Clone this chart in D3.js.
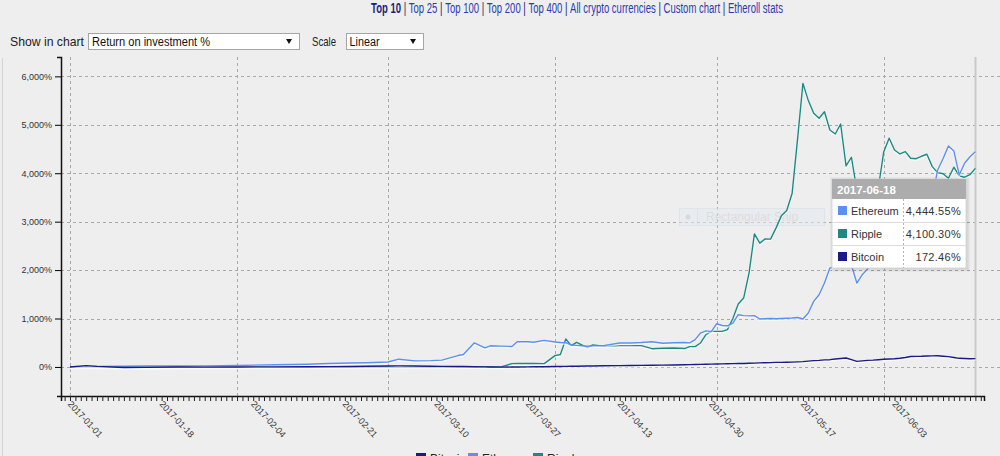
<!DOCTYPE html>
<html><head><meta charset="utf-8">
<script src="https://cdn.jsdelivr.net/npm/d3@7"></script>
<style>
body{margin:0;background:#eeeeee;font-family:Arial,"Liberation Sans",sans-serif;overflow:hidden}
svg{display:block}
</style></head><body><svg id="c" width="1000" height="456"></svg>
<script>
// ---------- data ----------
const dates = ["2017-01-01","2017-01-04","2017-01-06","2017-01-11","2017-01-15","2017-01-21","2017-01-26","2017-02-01","2017-02-08","2017-02-14","2017-02-18","2017-02-22","2017-02-25","2017-03-01","2017-03-03","2017-03-06","2017-03-09","2017-03-11","2017-03-14","2017-03-15","2017-03-17","2017-03-19","2017-03-20","2017-03-22","2017-03-24","2017-03-25","2017-03-27","2017-03-28","2017-03-30","2017-04-01","2017-04-02","2017-04-03","2017-04-04","2017-04-05","2017-04-07","2017-04-08","2017-04-10","2017-04-13","2017-04-15","2017-04-17","2017-04-19","2017-04-21","2017-04-23","2017-04-25","2017-04-26","2017-04-27","2017-04-28","2017-04-29","2017-04-30","2017-05-01","2017-05-02","2017-05-03","2017-05-04","2017-05-05","2017-05-06","2017-05-07","2017-05-08","2017-05-09","2017-05-10","2017-05-11","2017-05-12","2017-05-13","2017-05-14","2017-05-15","2017-05-16","2017-05-17","2017-05-18","2017-05-19","2017-05-20","2017-05-21","2017-05-22","2017-05-23","2017-05-24","2017-05-25","2017-05-26","2017-05-27","2017-05-28","2017-05-29","2017-05-30","2017-05-31","2017-06-01","2017-06-02","2017-06-03","2017-06-04","2017-06-05","2017-06-06","2017-06-07","2017-06-08","2017-06-09","2017-06-10","2017-06-11","2017-06-12","2017-06-13","2017-06-14","2017-06-15","2017-06-16","2017-06-17","2017-06-18"];
const bitcoin = [0,28,12,-12,-8,-2,-4,0,2,4,6,10,14,20,22,18,15,12,10,8,5,2,0,-4,-2,0,2,3,5,8,10,12,14,15,18,20,25,28,30,32,35,38,40,45,48,50,52,55,58,62,64,66,68,70,72,75,78,85,88,90,95,95,98,100,105,110,120,130,135,145,150,165,175,185,150,115,125,135,140,150,160,165,170,180,195,215,218,220,225,228,230,222,212,195,178,175,170,172.46];
const ethereum = [0,5,8,15,18,20,22,30,45,55,70,80,88,103,160,125,130,140,235,256,495,392,437,430,423,522,520,510,549,515,505,500,453,445,426,435,440,495,495,505,520,490,500,505,496,563,700,744,730,892,855,850,907,1078,1060,1055,1060,990,995,1000,995,1000,1005,1010,1020,990,1113,1353,1490,1732,2041,2075,2100,2130,2100,1732,1903,2020,2300,2490,2600,2625,2600,2570,2650,2770,2870,2975,3050,3500,4068,4300,4563,4460,3965,4206,4340,4444.55];
const ripple = [0,-3,-5,-8,-6,-8,-6,-5,-4,-3,-5,-4,-3,-2,-3,-4,-2,-2,0,0,2,0,-2,0,68,72,70,72,68,233,256,577,440,509,399,454,426,440,440,440,377,385,392,380,420,420,495,665,734,734,734,770,1000,1300,1422,1938,2748,2556,2645,2640,2866,3120,3229,3588,4700,5856,5500,5237,5134,5270,4893,4810,5016,4150,4330,3650,3150,3000,3250,3700,4445,4722,4480,4398,4445,4309,4300,4350,4392,4136,4012,3990,3897,4124,3944,3918,3970,4100.30];
const seriesNames = ["Bitcoin","Ethereum","Ripple"];
const seriesColors = ["#1b1b86","#5c91f4","#1c8a83"];
const yTicks = [0,1000,2000,3000,4000,5000,6000];
const xTickLabels = ["2017-01-01","2017-01-18","2017-02-04","2017-02-21","2017-03-10","2017-03-27","2017-04-13","2017-04-30","2017-05-17","2017-06-03"];
const gridMonths = ["2017-01-01","2017-02-01","2017-03-01","2017-04-01","2017-05-01","2017-06-01"];
const navItems = ["Top 10","Top 25","Top 100","Top 200","Top 400","All crypto currencies","Custom chart","Etheroll stats"];
const tooltipDate = "2017-06-18";

// ---------- setup ----------
const FONT = "Arial, 'Liberation Sans', sans-serif";
const parse = d3.utcParse("%Y-%m-%d");
const svg = d3.select("#c");
const series = seriesNames.map((name,i)=>({name, color:seriesColors[i],
  values:[bitcoin,ethereum,ripple][i].map((v,j)=>({date:parse(dates[j]), v}))}));

const day = 864e5;
const x = d3.scaleUtc()
  .domain([new Date(parse("2017-01-01").getTime()-1.67*day), new Date(parse("2017-01-01").getTime()+169.6*day)])
  .range([61,984]);
const y = d3.scaleLinear().domain([-600,6400]).range([396,57]);

// left container border
svg.append("line").attr("x1",2.5).attr("x2",2.5).attr("y1",58).attr("y2",456).attr("stroke","#d4d4d4");

// ---------- nav (condensed) ----------
const navG = svg.append("g").attr("transform","translate(577,0) scale(0.68,1)");
const nav = navG.append("text").attr("x",0).attr("y",12.5).attr("text-anchor","middle")
  .attr("font-size",14).attr("font-family",FONT);
navItems.forEach((t,i)=>{
  if(i>0) nav.append("tspan").attr("fill","#1a1a66").text(" | ");
  nav.append("tspan").attr("fill", i===0?"#1a1f7a":"#2b3bb0").attr("font-weight", i===0?"bold":"normal").text(t);
});

// ---------- controls ----------
const ctl = svg.append("g").attr("font-family",FONT);
function condensed(g, x0, yb, size, w, txt, fill){
  const t = g.append("text").attr("x",x0).attr("y",yb).attr("font-size",size).attr("fill",fill).text(txt);
  t.attr("textLength",w).attr("lengthAdjust","spacingAndGlyphs");
  return t;
}
condensed(ctl,10,46,13,74,"Show in chart","#222");
ctl.append("rect").attr("x",88.5).attr("y",33.5).attr("width",211).attr("height",16).attr("fill","#fff").attr("stroke","#a6a6a6");
condensed(ctl,92,45.5,12,118,"Return on investment %","#111");
ctl.append("path").attr("d","M286,39 h6 l-3,5 z").attr("fill","#111");
condensed(ctl,312,46,13,24,"Scale","#222");
ctl.append("rect").attr("x",346.5).attr("y",33.5).attr("width",77).attr("height",16).attr("fill","#fff").attr("stroke","#a6a6a6");
condensed(ctl,349.5,45.5,12,30,"Linear","#111");
ctl.append("path").attr("d","M410,39 h6 l-3,5 z").attr("fill","#111");

// ---------- grid ----------
const grid = svg.append("g").attr("stroke","#a8a8a8").attr("stroke-dasharray","3,3").attr("stroke-width",1);
grid.selectAll("line.h").data(yTicks).join("line").attr("class","h")
  .attr("x1",61).attr("x2",1000).attr("y1",d=>Math.round(y(d))+0.5).attr("y2",d=>Math.round(y(d))+0.5);
grid.selectAll("line.v").data(gridMonths).join("line").attr("class","v")
  .attr("x1",d=>Math.round(x(parse(d)))+0.5).attr("x2",d=>Math.round(x(parse(d)))+0.5).attr("y1",57).attr("y2",396);

// crosshair
const cx = Math.round(x(parse(tooltipDate)))+0.5;
svg.append("line").attr("x1",cx).attr("x2",cx).attr("y1",57).attr("y2",396).attr("stroke","#c9c9c9").attr("stroke-width",2);

// ghost snip widget
const gs = svg.append("g").attr("opacity",0.55);
gs.append("rect").attr("x",679.5).attr("y",208.5).attr("width",145).attr("height",17).attr("fill","#e4ebf1").attr("stroke","#d2dde8");
gs.append("circle").attr("cx",688).attr("cy",217).attr("r",2.5).attr("fill","#c8c8c8");
gs.append("line").attr("x1",697.5).attr("x2",697.5).attr("y1",209).attr("y2",225).attr("stroke","#d2dde8");
gs.append("text").attr("x",706).attr("y",221).attr("font-size",12).attr("fill","#cfcfcf").text("Rectangular Snip");

// ---------- lines ----------
const line = d3.line().x(d=>x(d.date)).y(d=>y(d.v));
[2,1,0].forEach(i=>{
  const s = series[i];
  svg.append("path").datum(s.values).attr("d",line).attr("fill","none")
    .attr("stroke","#ffffff").attr("stroke-opacity",0.6).attr("stroke-width",2).attr("transform","translate(0,1.2)");
  svg.append("path").datum(s.values).attr("d",line).attr("fill","none")
    .attr("stroke",s.color).attr("stroke-width",1.4).attr("stroke-linejoin","round");
});

// ---------- axes ----------
const yAxis = svg.append("g").attr("transform","translate(61,0)")
  .call(d3.axisLeft(y).tickValues(yTicks).tickSize(6).tickSizeOuter(4).tickFormat(d=>d3.format(",")(d)+"%"));
yAxis.selectAll("text").attr("font-size",9).attr("fill","#333").attr("font-family",FONT).attr("x",-9);
yAxis.select(".domain").attr("stroke","#111").attr("stroke-width",1.5);

const xAxisTicks = svg.append("g").attr("transform","translate(0,396)")
  .call(d3.axisBottom(x).ticks(d3.utcDay.every(1)).tickSize(5).tickSizeOuter(5).tickFormat(""));
xAxisTicks.select(".domain").attr("stroke","#111").attr("stroke-width",1.5);
xAxisTicks.selectAll(".tick line").attr("stroke","#222");

const xAxisLabels = svg.append("g").attr("transform","translate(0,396)")
  .call(d3.axisBottom(x).tickValues(xTickLabels.map(parse)).tickSize(0).tickFormat(d3.utcFormat("%Y-%m-%d")));
xAxisLabels.select(".domain").remove();
xAxisLabels.selectAll("text").attr("font-size",9).attr("fill","#333").attr("font-family",FONT)
  .attr("text-anchor","start").attr("x",4).attr("y",5).attr("dy","0.35em").attr("transform","rotate(47)");

// ---------- tooltip ----------
const lastIdx = dates.indexOf(tooltipDate);
const tipRows = series.map(s=>({name:s.name,color:s.color,v:s.values[lastIdx].v})).sort((a,b)=>b.v-a.v);
const tx=832, ty=179, tw=134, hh=20, rh=23;
const tip = svg.append("g").attr("font-family",FONT);
[4,3,2,1].forEach(k=>tip.append("rect").attr("x",tx-k+2).attr("y",ty-k+2).attr("width",tw+2*k-2).attr("height",hh+rh*3+2*k-2)
  .attr("fill","#000").attr("opacity",0.03));
tip.append("rect").attr("x",tx).attr("y",ty).attr("width",tw).attr("height",hh+rh*3).attr("fill","#fff").attr("stroke","#d8d8d8");
tip.append("rect").attr("x",tx).attr("y",ty).attr("width",tw).attr("height",hh).attr("fill","#acacac");
tip.append("text").attr("x",tx+5).attr("y",ty+15).attr("font-size",11.5).attr("font-weight","bold").attr("fill","#fff").text(tooltipDate);
tipRows.forEach((r,i)=>{
  const ry = ty+hh+i*rh;
  if(i>0) tip.append("line").attr("x1",tx).attr("x2",tx+tw).attr("y1",ry+0.5).attr("y2",ry+0.5).attr("stroke","#dcdcdc");
  tip.append("rect").attr("x",tx+6).attr("y",ry+7).attr("width",9).attr("height",9).attr("fill",r.color);
  tip.append("text").attr("x",tx+19).attr("y",ry+16).attr("font-size",11).attr("fill","#333").text(r.name);
  tip.append("text").attr("x",tx+tw-5).attr("y",ry+16).attr("font-size",11).attr("fill","#333").attr("text-anchor","end")
    .attr("letter-spacing",0.3).text(d3.format(",.2f")(r.v)+"%");
});
tip.append("line").attr("x1",903.5).attr("x2",903.5).attr("y1",ty+hh).attr("y2",ty+hh+rh*3).attr("stroke","#b5b5b5").attr("stroke-dasharray","2,2");

// ---------- legend ----------
const legX = [416,468,533];
const leg = svg.append("g").attr("font-family",FONT);
series.forEach((s,i)=>{
  leg.append("rect").attr("x",legX[i]).attr("y",453).attr("width",10).attr("height",10).attr("fill",s.color);
  leg.append("text").attr("x",legX[i]+14).attr("y",463).attr("font-size",12).attr("fill","#222").text(s.name);
});
</script></body></html>
